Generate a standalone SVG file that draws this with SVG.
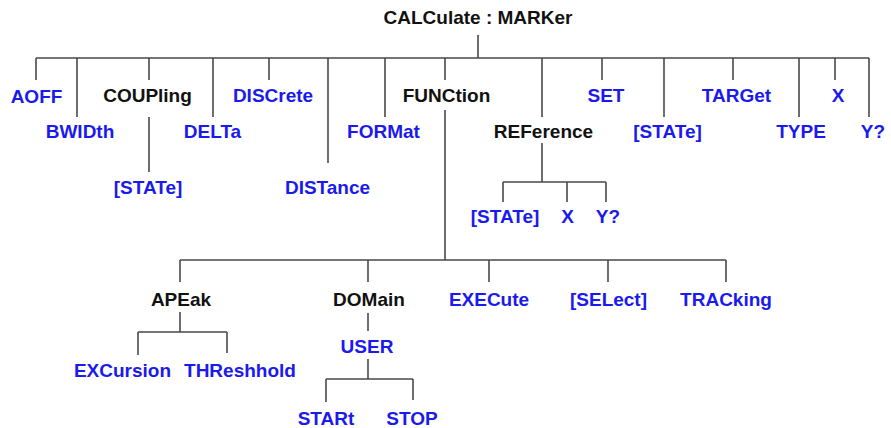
<svg xmlns="http://www.w3.org/2000/svg" width="891" height="428" viewBox="0 0 891 428">
<style>
text{font-family:"Liberation Sans",Arial,sans-serif;font-weight:bold;font-size:19px;text-anchor:middle}
.b{fill:#1a1aee}
.k{fill:#111}
#connectors path{stroke:#4a4a4a;stroke-width:1.6;fill:none}
</style>
<rect width="891" height="428" fill="#fff"/>
<g id="connectors">
<path d="M478 35V58M36 58H869"/>
<path d="M36 58V80M77 58V117M149 58V80M213 58V117M269 58V80M328 58V163M385 58V117M445 58V80M542 58V117M602 58V80M664 58V117M733 58V80M799 58V117M835 58V80M869 58V117"/>
<path d="M149 117V172"/>
<path d="M542 143V182M503 182H606M503 182V202M567 182V202M606 182V202"/>
<path d="M445 110V260M180 260H726M180 260V282M368 260V282M489 260V282M608 260V282M726 260V282"/>
<path d="M180 312V332M138 332H227M138 332V355M227 332V353"/>
<path d="M368 313V331"/>
<path d="M368 359V379M326 379H413M326 379V402M413 379V400"/>
</g>
<g id="root"><text class="k" x="478" y="24">CALCulate : MARKer</text></g>
<g id="aoff"><text class="b" x="36.5" y="103">AOFF</text></g>
<g id="bwidth"><text class="b" x="80" y="138">BWIDth</text></g>
<g id="coupling"><text class="k" x="147.5" y="102">COUPling</text></g>
<g id="coupling-state"><text class="b" x="148" y="194">[STATe]</text></g>
<g id="delta"><text class="b" x="212.5" y="138">DELTa</text></g>
<g id="discrete"><text class="b" x="273" y="102">DISCrete</text></g>
<g id="distance"><text class="b" x="327.5" y="194">DISTance</text></g>
<g id="format"><text class="b" x="383.5" y="138">FORMat</text></g>
<g id="function"><text class="k" x="446.5" y="102">FUNCtion</text></g>
<g id="reference"><text class="k" x="543.5" y="138">REFerence</text></g>
<g id="ref-state"><text class="b" x="505" y="223">[STATe]</text></g>
<g id="ref-x"><text class="b" x="567.5" y="223">X</text></g>
<g id="ref-y"><text class="b" x="608" y="223">Y?</text></g>
<g id="set"><text class="b" x="606" y="102">SET</text></g>
<g id="state"><text class="b" x="667.5" y="138">[STATe]</text></g>
<g id="target"><text class="b" x="736.5" y="102">TARGet</text></g>
<g id="type"><text class="b" x="801" y="138">TYPE</text></g>
<g id="x"><text class="b" x="838" y="102">X</text></g>
<g id="y"><text class="b" x="873" y="138">Y?</text></g>
<g id="apeak"><text class="k" x="181" y="306">APEak</text></g>
<g id="domain"><text class="k" x="369" y="306">DOMain</text></g>
<g id="execute"><text class="b" x="489" y="306">EXECute</text></g>
<g id="select"><text class="b" x="608.5" y="306">[SELect]</text></g>
<g id="tracking"><text class="b" x="726" y="306">TRACking</text></g>
<g id="excursion"><text class="b" x="122.5" y="377">EXCursion</text></g>
<g id="threshhold"><text class="b" x="240" y="377">THReshhold</text></g>
<g id="user"><text class="b" x="367" y="353">USER</text></g>
<g id="start"><text class="b" x="326" y="425">STARt</text></g>
<g id="stop"><text class="b" x="412" y="425">STOP</text></g>
</svg>
